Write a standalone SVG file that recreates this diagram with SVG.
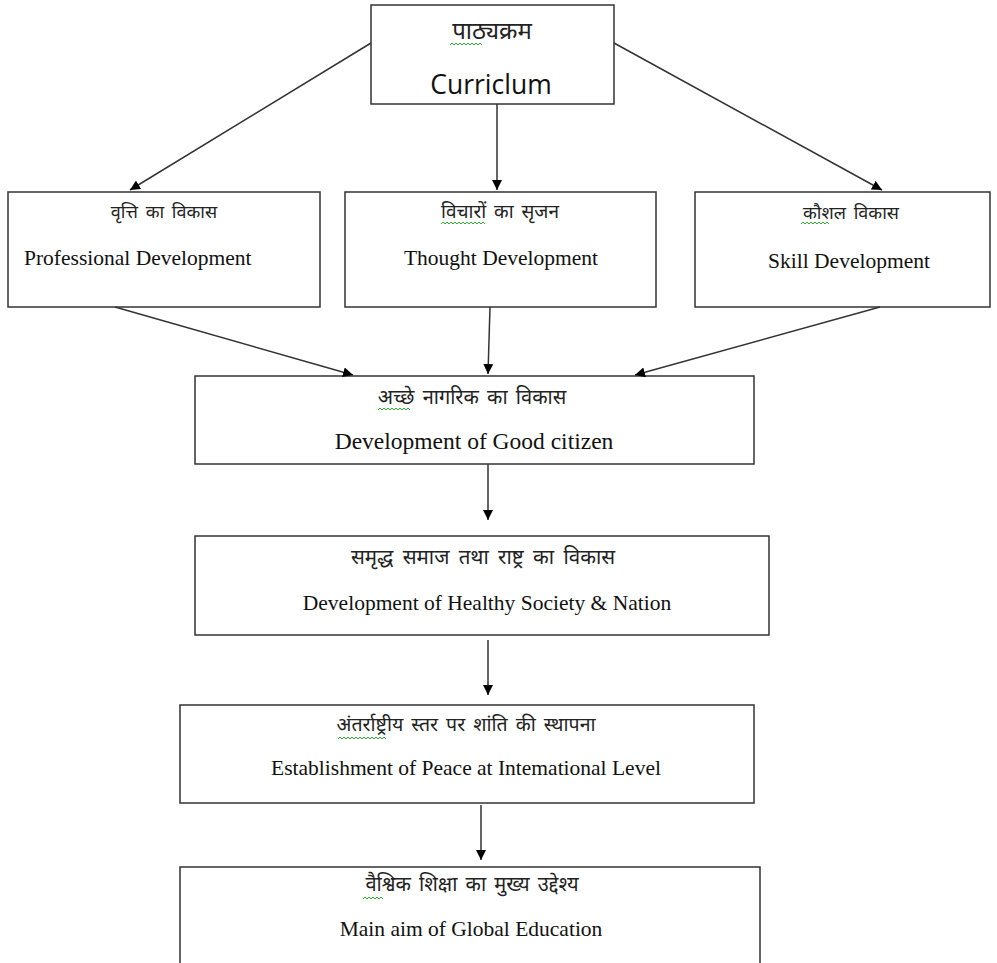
<svg xmlns="http://www.w3.org/2000/svg" width="997" height="963" viewBox="0 0 997 963">
<style>
.box{fill:#fff;stroke:#333;stroke-width:1.5}
.hi{font-family:"Noto Sans Devanagari","Noto Serif Devanagari","Lohit Devanagari","Noto Sans",sans-serif;font-size:18px;word-spacing:3px;fill:#222;text-anchor:middle}
.en{font-family:"Liberation Serif","Times New Roman",serif;font-size:21.5px;fill:#111;text-anchor:middle}
.cal{font-family:"Open Sans","Liberation Sans",sans-serif;font-size:26.5px;fill:#111;text-anchor:middle}
.con line{stroke:#333;stroke-width:1.5}
.sq{fill:none;stroke:#3a3;stroke-width:1}
</style>
<defs>
<marker id="ah" viewBox="0 0 10 10" refX="10" refY="5" markerWidth="10" markerHeight="10" markerUnits="userSpaceOnUse" orient="auto">
<path d="M0,0 L10,5 L0,10 z" fill="#000"/>
</marker>
</defs>
<rect width="997" height="963" fill="#fff"/>
<g id="n-curriculum">
<rect class="box" x="371" y="5" width="243" height="99"/>
<text class="hi" x="492" y="39" style="font-size:24px">पाठ्यक्रम</text>
<text class="cal" x="491" y="94">Curriclum</text>
<path class="sq" d="M450,45 l2,-2 l2,2 l2,-2 l2,2 l2,-2 l2,2 l2,-2 l2,2 l2,-2 l2,2 l2,-2 l2,2 l2,-2 l2,2 l2,-2 l2,2"/>
</g>
<g id="n-professional">
<rect class="box" x="8" y="192" width="312" height="115"/>
<text class="hi" x="164" y="218">वृत्ति का विकास</text>
<text class="en" x="24" y="265" style="text-anchor:start">Professional Development</text>
</g>
<g id="n-thought">
<rect class="box" x="345" y="192" width="311" height="115"/>
<text class="hi" x="500" y="218" style="font-size:19px">विचारों का सृजन</text>
<text class="en" x="501" y="265">Thought Development</text>
<path class="sq" d="M441,224 l2,-2 l2,2 l2,-2 l2,2 l2,-2 l2,2 l2,-2 l2,2 l2,-2 l2,2 l2,-2 l2,2 l2,-2 l2,2 l2,-2 l2,2 l2,-2 l2,2 l2,-2 l2,2 l2,-2 l2,2"/>
</g>
<g id="n-skill">
<rect class="box" x="695" y="192" width="295" height="115"/>
<text class="hi" x="851" y="219">कौशल विकास</text>
<text class="en" x="849" y="268">Skill Development</text>
<path class="sq" d="M801,224 l2,-2 l2,2 l2,-2 l2,2 l2,-2 l2,2 l2,-2 l2,2 l2,-2 l2,2 l2,-2 l2,2 l2,-2 l2,2"/>
</g>
<g id="n-citizen">
<rect class="box" x="195" y="376" width="559" height="88"/>
<text class="hi" x="472" y="404" style="font-size:20px">अच्छे नागरिक का विकास</text>
<text class="en" x="474" y="449" style="font-size:23.5px">Development of Good citizen</text>
<path class="sq" d="M378,410 l2,-2 l2,2 l2,-2 l2,2 l2,-2 l2,2 l2,-2 l2,2 l2,-2 l2,2 l2,-2 l2,2 l2,-2 l2,2 l2,-2 l2,2"/>
</g>
<g id="n-society">
<rect class="box" x="195" y="536" width="574" height="99"/>
<text class="hi" x="483" y="564" style="font-size:20.5px;word-spacing:4px">समृद्ध समाज तथा राष्ट्र का विकास</text>
<text class="en" x="487" y="610">Development of Healthy Society &amp; Nation</text>
</g>
<g id="n-peace">
<rect class="box" x="180" y="705" width="574" height="98"/>
<text class="hi" x="466" y="731" style="font-size:19.5px">अंतर्राष्ट्रीय स्तर पर शांति की स्थापना</text>
<text class="en" x="466" y="775">Establishment of Peace at Intemational Level</text>
<path class="sq" d="M338,739 l2,-2 l2,2 l2,-2 l2,2 l2,-2 l2,2 l2,-2 l2,2 l2,-2 l2,2 l2,-2 l2,2 l2,-2 l2,2 l2,-2 l2,2 l2,-2 l2,2 l2,-2 l2,2 l2,-2 l2,2 l2,-2 l2,2"/>
</g>
<g id="n-global">
<rect class="box" x="180" y="867" width="580" height="100"/>
<text class="hi" x="472" y="891" style="font-size:20px">वैश्विक शिक्षा का मुख्य उद्देश्य</text>
<text class="en" x="471" y="936">Main aim of Global Education</text>
<path class="sq" d="M363,899 l2,-2 l2,2 l2,-2 l2,2 l2,-2 l2,2 l2,-2 l2,2 l2,-2 l2,2"/>
</g>
<g id="connectors" class="con">
<line x1="371" y1="43" x2="130" y2="190" marker-end="url(#ah)"/>
<line x1="497" y1="104" x2="497" y2="190" marker-end="url(#ah)"/>
<line x1="614" y1="43" x2="882" y2="190" marker-end="url(#ah)"/>
<line x1="115" y1="307" x2="353" y2="375" marker-end="url(#ah)"/>
<line x1="490" y1="307" x2="488" y2="374" marker-end="url(#ah)"/>
<line x1="880" y1="307" x2="635" y2="375" marker-end="url(#ah)"/>
<line x1="488" y1="464" x2="488" y2="520" marker-end="url(#ah)"/>
<line x1="488" y1="640" x2="488" y2="695" marker-end="url(#ah)"/>
<line x1="481" y1="805" x2="481" y2="860" marker-end="url(#ah)"/>
</g>
</svg>
